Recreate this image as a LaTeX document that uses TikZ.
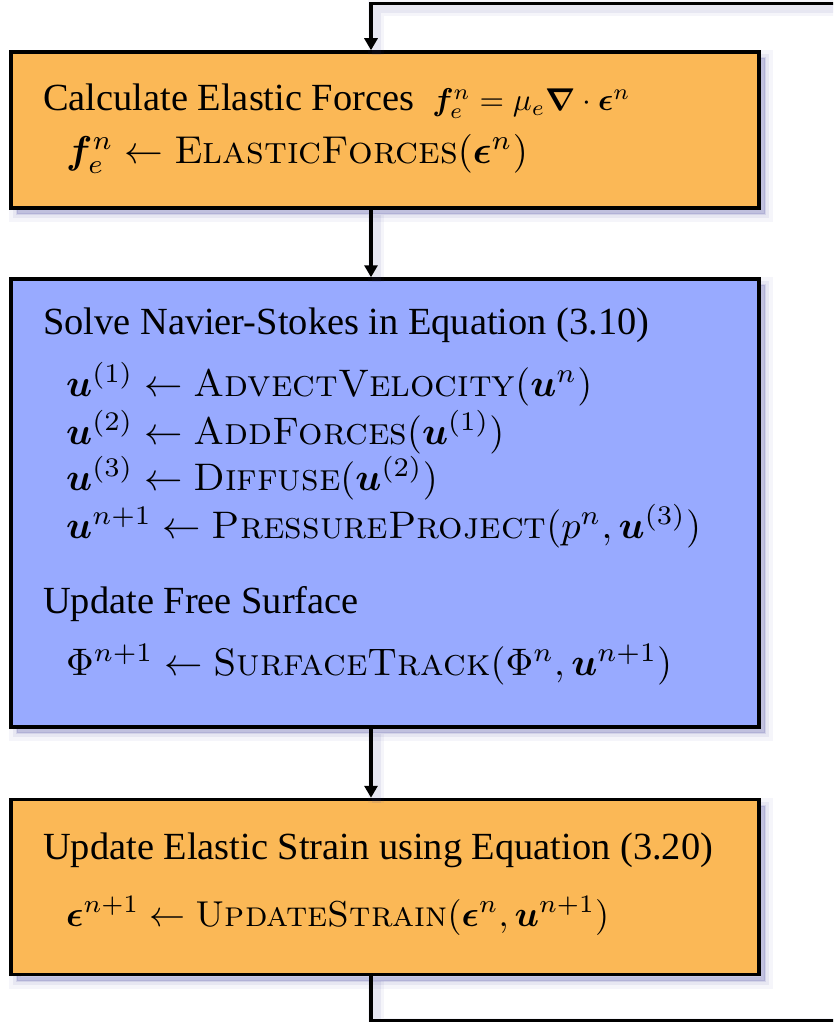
\RequirePackage{fix-cm}
\documentclass[tikz,border=0pt]{standalone}
\usepackage{amsmath,bm,graphicx}
\usepackage{fontspec}
\newfontfamily\tms{Liberation Serif}
\usetikzlibrary{arrows.meta}
\definecolor{boxorange}{RGB}{251,184,86}
\definecolor{boxblue}{RGB}{152,170,255}
\definecolor{shc}{RGB}{70,70,160}
\newcommand{\SC}[1]{\text{\textrm{\textsc{#1}}}}
\newcommand{\bigtxt}[2][3.84]{\scalebox{#1}{\fontsize{10}{12}\selectfont #2}}
\newcommand{\bighdr}[1]{\scalebox{3.84}{\fontsize{10}{12}\selectfont\tms #1}}
\tikzset{
  boxshadow/.style={
    preaction={draw=shc,fill=shc,opacity=0.05,line width=16pt,transform canvas={shift={(6pt,-6pt)}}},
    preaction={draw=shc,fill=shc,opacity=0.08,line width=8pt,transform canvas={shift={(6pt,-6pt)}}},
    preaction={draw=shc,fill=shc,opacity=0.12,line width=2pt,transform canvas={shift={(6pt,-6pt)}}}},
  lineshadow/.style={
    preaction={draw=shc,opacity=0.05,line width=16pt,transform canvas={shift={(5pt,-5pt)}},-},
    preaction={draw=shc,opacity=0.08,line width=9pt,transform canvas={shift={(5pt,-5pt)}},-}},
  stagebox/.style={draw=black,line width=3.5pt,inner sep=0pt,rectangle,boxshadow},
  conn/.style={draw=black,line width=3.5pt,lineshadow},
  arr/.style={-{Triangle[width=13pt,length=12pt]}},
  txt/.style={anchor=base west,inner sep=0pt},
}
\begin{document}
\begin{tikzpicture}[x=1pt,y=-1pt]
\useasboundingbox (0,0) rectangle (833,1022);
\clip (0,0) rectangle (833,1022);
\fill[white] (0,0) rectangle (833,1022);
% boxes
\node[stagebox,fill=boxorange,minimum width=748pt,minimum height=156pt] (force) at (385,130) {};
\node[stagebox,fill=boxblue,minimum width=748pt,minimum height=448pt] (fluid) at (385,503) {};
\node[stagebox,fill=boxorange,minimum width=748pt,minimum height=175pt] (strain) at (385,887) {};
% connector geometry
\coordinate (cx) at (371,0);
\coordinate (bl) at (371,1021);
\coordinate (br) at (860,1021);
\coordinate (tr) at (860,3.5);
\coordinate (tl) at (371,3.5);
\draw[conn,arr] (force.south -| cx) -- (fluid.north -| cx);
\draw[conn,arr] (fluid.south -| cx) -- (strain.north -| cx);
\draw[conn,arr] (strain.south -| cx) -- (bl) -- (br) -- (tr) -- (tl) -- (force.north -| cx);
% texts
\node[txt] (t1) at (43,111) {\bighdr{Calculate Elastic Forces}\hspace{18pt}\bigtxt[3.15]{$\bm{f}_e^n = \mu_e \bm{\nabla}\cdot\bm{\epsilon}^n$}};
\node[txt] (t2) at (66,164) {\bigtxt[3.88]{$\bm{f}_e^n \leftarrow \SC{ElasticForces}(\bm{\epsilon}^n)$}};
\node[txt] (t3) at (43,334) {\bighdr{Solve Navier-Stokes in Equation (3.10)}};
\node[txt] (t4) at (66,396) {\bigtxt{$\bm{u}^{(1)} \leftarrow \SC{AdvectVelocity}(\bm{u}^n)$}};
\node[txt] (t5) at (66,444) {\bigtxt{$\bm{u}^{(2)} \leftarrow \SC{AddForces}(\bm{u}^{(1)})$}};
\node[txt] (t6) at (66,490) {\bigtxt{$\bm{u}^{(3)} \leftarrow \SC{Diffuse}(\bm{u}^{(2)})$}};
\node[txt] (t7) at (66,538) {\bigtxt{$\bm{u}^{n+1} \leftarrow \SC{PressureProject}(p^n,\bm{u}^{(3)})$}};
\node[txt] (t8) at (43,613) {\bighdr{Update Free Surface}};
\node[txt] (t9) at (66,675) {\bigtxt{$\Phi^{n+1} \leftarrow \SC{SurfaceTrack}(\Phi^n,\bm{u}^{n+1})$}};
\node[txt] (t10) at (43,859) {\bighdr{Update Elastic Strain using Equation (3.20)}};
\node[txt] (t11) at (66,926) {\bigtxt[3.6]{$\bm{\epsilon}^{n+1} \leftarrow \SC{UpdateStrain}(\bm{\epsilon}^n,\bm{u}^{n+1})$}};
\end{tikzpicture}
\end{document}
